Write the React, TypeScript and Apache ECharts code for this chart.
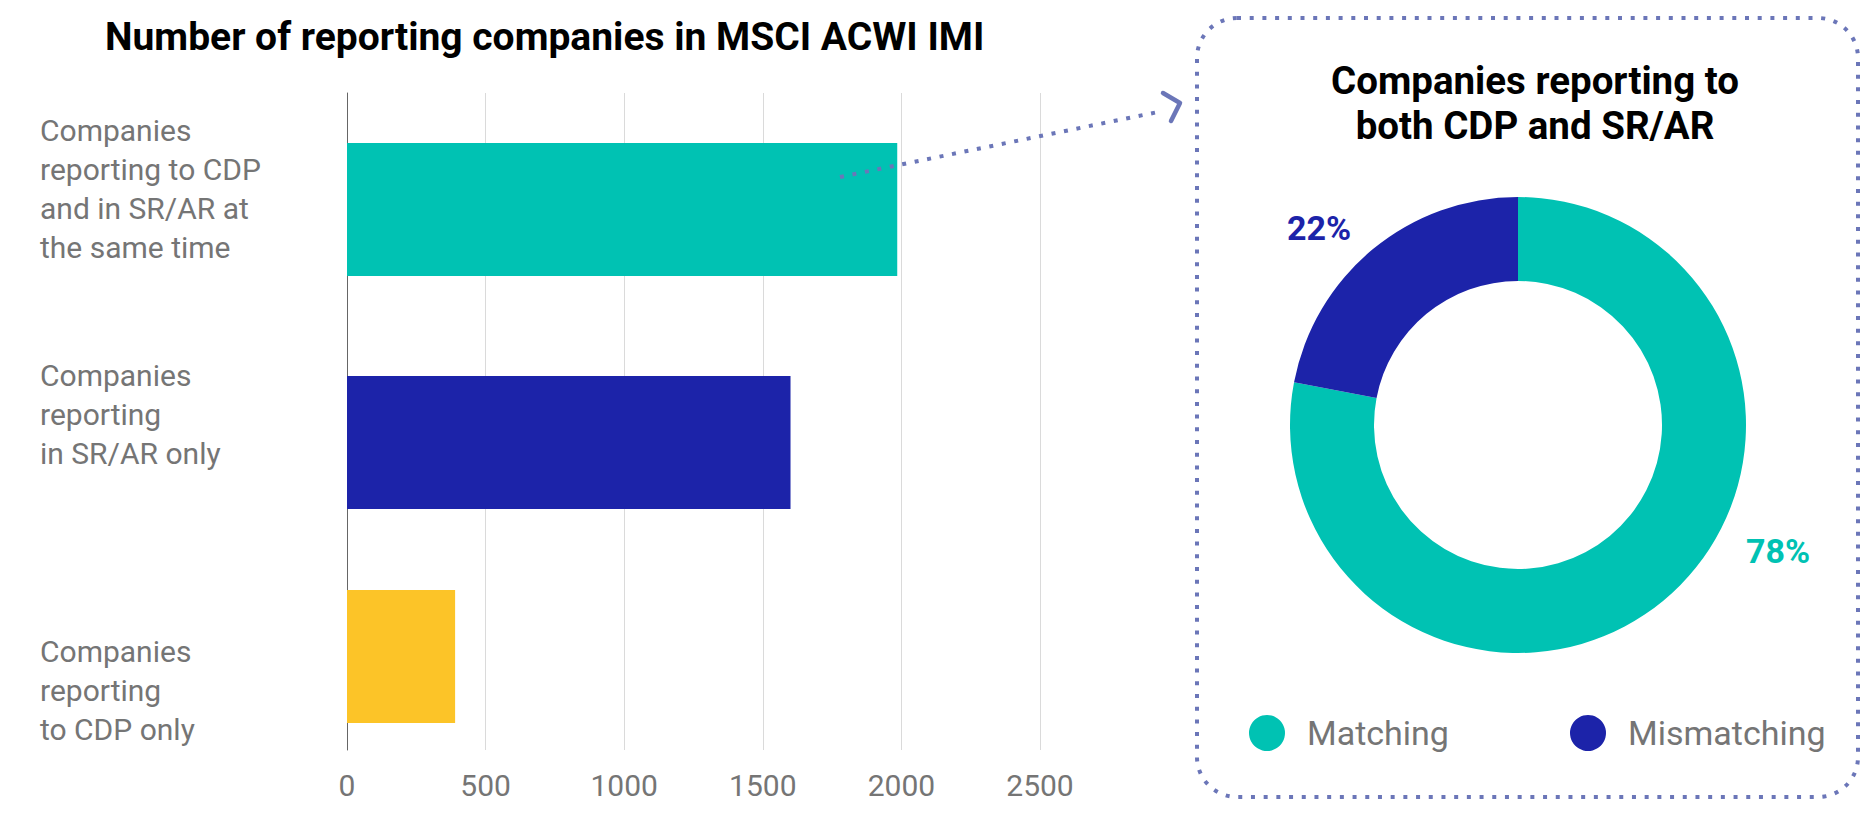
import React, { useEffect, useRef } from "react";
import * as echarts from "echarts";

const categories = [
  "Companies\nreporting to CDP\nand in SR/AR at\nthe same time",
  "Companies\nreporting\nin SR/AR only",
  "Companies\nreporting\nto CDP only",
];
const barValues = [1985, 1600, 390];
const barColors = ["#00C2B3", "#1C23A9", "#FCC428"];
const xAxisMin = 0;
const xAxisMax = 2500;
const xAxisStep = 500;
const pieNames = ["Matching", "Mismatching"];
const pieValues = [78, 22];
const pieColors = ["#00C2B3", "#1C23A9"];
const barTitle = "Number of reporting companies in MSCI ACWI IMI";
const pieTitle = "Companies reporting to\nboth CDP and SR/AR";

const GRAY = "#757575";
const DOT = "#6B76B8";
const FONT = "Roboto";

export default function App() {
  const ref = useRef<HTMLDivElement>(null);

  useEffect(() => {
    document.body.style.margin = "0";
    if (!ref.current) return;
    const chart = echarts.init(ref.current, null, { renderer: "svg" });

    // the middle bar sits slightly lower in the reference: split into two series
    const upperSeries = barValues.map((v, i) =>
      i === 1 ? null : { value: v, itemStyle: { color: barColors[i] } }
    );
    const lowerSeries = barValues.map((v, i) =>
      i === 1 ? { value: v, itemStyle: { color: barColors[i] } } : null
    );

    const option: any = {
      animation: false,
      backgroundColor: "#ffffff",
      title: [
        {
          text: barTitle,
          left: 105,
          top: 17,
          padding: 0,
          textStyle: {
            fontFamily: FONT,
            fontSize: 39,
            fontWeight: "bold",
            color: "#000000",
            lineHeight: 39,
          },
        },
        {
          text: pieTitle,
          left: 1535,
          top: 58,
          padding: 0,
          textAlign: "center",
          textStyle: {
            fontFamily: FONT,
            fontSize: 38.5,
            fontWeight: "bold",
            color: "#000000",
            lineHeight: 45,
          },
        },
      ],
      legend: [
        {
          data: [pieNames[0]],
          left: 1249,
          top: 715,
          padding: 0,
          icon: "circle",
          itemWidth: 36,
          itemHeight: 36,
          selectedMode: false,
          textStyle: { fontFamily: FONT, fontSize: 34, color: GRAY, padding: [0, 0, 0, 17] },
        },
        {
          data: [pieNames[1]],
          left: 1570,
          top: 715,
          padding: 0,
          icon: "circle",
          itemWidth: 36,
          itemHeight: 36,
          selectedMode: false,
          textStyle: { fontFamily: FONT, fontSize: 34, color: GRAY, padding: [0, 0, 0, 17] },
        },
      ],
      grid: [
        { left: 347, width: 693, top: 93, height: 657, containLabel: false },
        { left: 347, width: 693, top: 102.5, height: 670.5, containLabel: false },
      ],
      xAxis: [
        {
          type: "value",
          gridIndex: 0,
          min: xAxisMin,
          max: xAxisMax,
          interval: xAxisStep,
          axisLine: { show: false },
          axisTick: { show: false },
          splitLine: { show: true, lineStyle: { color: "#DADADA", width: 1 } },
          axisLabel: {
            fontFamily: FONT,
            fontSize: 30,
            color: GRAY,
            margin: 20,
            formatter: (v: number) => String(v),
          },
        },
        {
          type: "value",
          gridIndex: 1,
          min: xAxisMin,
          max: xAxisMax,
          interval: xAxisStep,
          show: false,
        },
      ],
      yAxis: [
        {
          type: "category",
          gridIndex: 0,
          data: categories,
          inverse: true,
          axisLine: { show: true, lineStyle: { color: "#666666", width: 1 } },
          axisTick: { show: false },
          axisLabel: { show: false },
          splitLine: { show: false },
        },
        {
          type: "category",
          gridIndex: 1,
          data: categories,
          inverse: true,
          axisLine: { show: false },
          axisTick: { show: false },
          splitLine: { show: false },
          axisLabel: {
            align: "left",
            margin: 307,
            fontFamily: FONT,
            fontSize: 30,
            lineHeight: 39,
            color: GRAY,
            formatter: (value: string, index: number) =>
              index === 2 ? `{s2| }\n${value}` : `${value}\n{s${index}| }`,
            rich: {
              s0: { fontSize: 1, lineHeight: 51.5 },
              s1: { fontSize: 1, lineHeight: 47.5 },
              s2: { fontSize: 1, lineHeight: 57.5 },
            },
          },
        },
      ],
      series: [
        {
          type: "bar",
          name: "upper",
          xAxisIndex: 1,
          yAxisIndex: 1,
          barWidth: 133,
          barGap: "-92.86%",
          data: upperSeries,
        },
        {
          type: "bar",
          name: "lower",
          xAxisIndex: 1,
          yAxisIndex: 1,
          barWidth: 133,
          barGap: "-92.86%",
          data: lowerSeries,
        },
        {
          type: "pie",
          center: [1518, 425],
          radius: [144, 228],
          startAngle: 90,
          clockwise: true,
          data: pieValues.map((v, i) => ({
            name: pieNames[i],
            value: v,
            itemStyle: { color: pieColors[i] },
            label: { color: pieColors[i] },
          })),
          label: {
            show: true,
            formatter: "{c}%",
            fontFamily: FONT,
            fontSize: 34,
            fontWeight: "bold",
          },
          labelLine: { show: false },
          labelLayout: (params: any) =>
            params.dataIndex === 0
              ? { x: 1778, y: 551, align: "center", verticalAlign: "middle" }
              : { x: 1319, y: 228, align: "center", verticalAlign: "middle" },
          emphasis: { disabled: true },
        },
      ],
      graphic: [
        {
          type: "rect",
          z: 100,
          shape: { x: 1197, y: 18, width: 661, height: 779, r: 40 },
          style: { fill: "none", stroke: DOT, lineWidth: 4, lineDash: [4, 8.7] },
        },
        {
          type: "line",
          z: 100,
          shape: { x1: 840, y1: 177, x2: 1158, y2: 112 },
          style: { stroke: DOT, lineWidth: 4, lineDash: [4, 8.7] },
        },
        {
          type: "polyline",
          z: 100,
          shape: { points: [[1163, 93], [1180, 103], [1171, 121]] },
          style: { fill: "none", stroke: DOT, lineWidth: 4.5, lineCap: "round", lineJoin: "round" },
        },
      ],
    };

    chart.setOption(option);
    return () => chart.dispose();
  }, []);

  return <div ref={ref} style={{ width: 1870, height: 830 }} />;
}
